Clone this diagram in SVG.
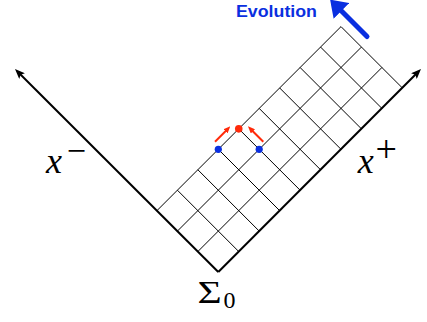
<svg xmlns="http://www.w3.org/2000/svg" width="427" height="322" viewBox="0 0 427 322">
<style>
.grid{stroke:#000;stroke-width:1;fill:none}
.axis{stroke:#000;stroke-width:2;fill:none}
.math{font-family:"Liberation Serif","Times New Roman",serif;fill:#000}
.red{stroke:#ff2a0a;stroke-width:2;fill:none}
</style>
<defs>
<marker id="ah" viewBox="0 0 10 8" refX="4" refY="4" markerWidth="10" markerHeight="8" markerUnits="userSpaceOnUse" orient="auto">
<path d="M0,0 L10,4 L0,8 L2,4 z" fill="#000"/>
</marker>
<marker id="ahr" viewBox="0 0 7 6" refX="3" refY="3" markerWidth="7" markerHeight="6" markerUnits="userSpaceOnUse" orient="auto">
<path d="M0,0 L7,3 L0,6 z" fill="#ff2a0a"/>
</marker>
<marker id="ahb" viewBox="0 0 16 22" refX="2" refY="11" markerWidth="16" markerHeight="22" markerUnits="userSpaceOnUse" orient="auto">
<path d="M0,0 L16,11 L0,22 z" fill="#0a2fe0"/>
</marker>
</defs>
<g id="connectors">
<g id="grid" class="grid">
<line x1="238.75" y1="251.55" x2="177.4" y2="190.2"/>
<line x1="259.2" y1="231.1" x2="197.85" y2="169.75"/>
<line x1="279.65" y1="210.65" x2="218.3" y2="149.3"/>
<line x1="300.1" y1="190.2" x2="238.75" y2="128.85"/>
<line x1="320.55" y1="169.75" x2="259.2" y2="108.4"/>
<line x1="341" y1="149.3" x2="279.65" y2="87.95"/>
<line x1="361.45" y1="128.85" x2="300.1" y2="67.5"/>
<line x1="381.9" y1="108.4" x2="320.55" y2="47.05"/>
<line x1="402.35" y1="87.95" x2="341" y2="26.6"/>
<line x1="197.85" y1="251.55" x2="381.9" y2="67.5"/>
<line x1="177.4" y1="231.1" x2="361.45" y2="47.05"/>
<line x1="156.95" y1="210.65" x2="341" y2="26.6"/>
</g>
<line id="axis-minus" class="axis" x1="218.3" y1="272" x2="19.24" y2="73.24" marker-end="url(#ah)"/>
<line id="axis-plus" class="axis" x1="218.3" y1="272" x2="416.76" y2="73.24" marker-end="url(#ah)"/>
<line class="red" x1="215" y1="141.7" x2="227.5" y2="129.2" marker-end="url(#ahr)"/>
<line class="red" x1="263.3" y1="141.7" x2="250.8" y2="129.2" marker-end="url(#ahr)"/>
<line id="evolution-arrow" x1="367" y1="36.5" x2="340" y2="9.5" stroke="#0a2fe0" stroke-width="5" stroke-linecap="round" marker-end="url(#ahb)"/>
</g>
<g id="points">
<circle cx="218.3" cy="149.3" r="3.6" fill="#0a2fe0"/>
<circle cx="259.2" cy="149.3" r="3.6" fill="#0a2fe0"/>
<circle cx="238.75" cy="128.85" r="3.8" fill="#ff2a0a"/>
</g>
<g id="label-evolution">
<text x="236" y="17" font-family="Liberation Sans, Arial, sans-serif" font-weight="bold" font-size="17" fill="#0a2fe0" textLength="81" lengthAdjust="spacingAndGlyphs">Evolution</text>
</g>
<g id="label-xminus">
<text class="math" x="46" y="172.5" font-size="36" font-style="italic">x</text>
<text class="math" x="66.7" y="162" font-size="34">−</text>
</g>
<g id="label-xplus">
<text class="math" x="357.7" y="172.5" font-size="36" font-style="italic">x</text>
<text class="math" x="375.6" y="162" font-size="38">+</text>
</g>
<g id="label-sigma0">
<text class="math" transform="translate(197.5,303.3) scale(1.3,1)" font-size="32">Σ</text>
<text class="math" x="223.5" y="308.3" font-size="24">0</text>
</g>
</svg>
